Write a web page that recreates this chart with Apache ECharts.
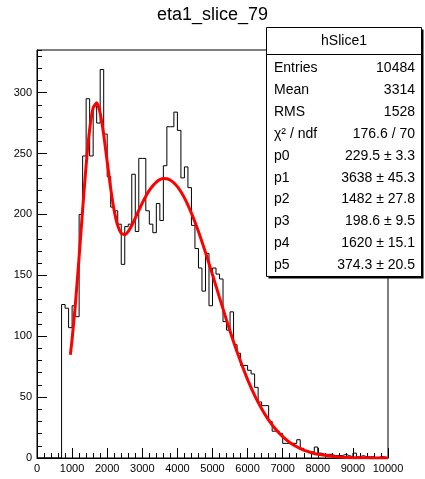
<!DOCTYPE html>
<html>
<head>
<meta charset="utf-8">
<script src="https://cdn.jsdelivr.net/npm/echarts@6/dist/echarts.min.js"></script>
<style>
html,body{margin:0;padding:0;background:#fff;}
#chart{width:425px;height:479px;}
</style>
</head>
<body>
<div id="chart"></div>
<script>
// ---- data ----
const chartTitle = 'eta1_slice_79';
const binLowFirst = 700;      // low edge of first filled bin
const binWidth = 100;
const binCounts = [
  126,123,107,125,116,200,248,295,248,289,
  275,319,266,231,206,203,192,159,190,192,
  233,186,246,246,203,192,185,209,195,240,
  272,272,284,269,230,239,222,191,172,156,
  137,168,125,156,151,147,112,105,120,93,
  86,76,76,72,69,58,46,43,43,30,
  22,22,20,12,12,12,12,15,8,6,
  5,5,9,4,3,3,3,2,2,2,
  3,2,1,4,1,2,1,1,1,0,
  1,1,0
];
const fitX = [950,1000,1100,1200,1300,1400,1500,1600,1700,1800,1900,
  2000,2100,2200,2300,2400,2500,2600,2700,2800,2900,
  3000,3100,3200,3300,3400,3500,3600,3700,3800,3900,
  4000,4100,4200,4300,4400,4500,4600,4700,4800,4900,5000,
  5200,5400,5600,5800,6000,6200,6400,6600,6800,7000,7200,7400,7600,7800,8000,
  8500,9000,9500,10000];
const fitY = [84.8,97.5,128.6,165.1,203.9,240.5,269.8,287.5,291.6,283.3,265.5,
  243.2,221.2,203.1,190.8,184.5,183.4,186.1,190.9,197.0,203.3,
  209.4,214.9,219.7,223.6,226.6,228.5,229.4,229.3,228.1,225.9,
  222.8,218.6,213.6,207.7,201.1,193.8,185.9,177.5,168.8,159.7,150.5,
  131.7,113.2,95.5,79.2,64.4,51.5,40.4,31.1,23.6,17.5,12.8,9.2,6.4,4.5,3.0,
  1.1,0.3,0.1,0.0];
const xMin = 0, xMax = 10000, xStep = 1000;
const yMin = 0, yMax = 335, yStep = 50, yMinorStep = 10;
const statsTitle = 'hSlice1';
const statsLabels = ['Entries','Mean','RMS','\u03C7\u00B2 / ndf','p0','p1','p2','p3','p4','p5'];
const statsValues = ['10484','3314','1528','176.6 / 70',
  '229.5 \u00B1 3.3','3638 \u00B1 45.3','1482 \u00B1 27.8',
  '198.6 \u00B1 9.5','1620 \u00B1 15.1','374.3 \u00B1 20.5'];

// ---- build series tables ----
const histData = [[xMin, 0]];
binCounts.forEach((c, i) => histData.push([binLowFirst + i * binWidth, c]));
histData.push([xMax, 0]);
const fitData = fitX.map((x, i) => [x, fitY[i]]);

const FONT = '"Liberation Sans", Arial, Helvetica, sans-serif';

// stats box graphics
const box = {l: 266.5, t: 27.5, r: 421.5, b: 276.5, head: 54.5};
const graphics = [
  {type:'rect', z:100, shape:{x:box.l+2, y:box.t+2, width:box.r-box.l, height:box.b-box.t},
   style:{fill:'#000', stroke:null}},
  {type:'rect', z:101, shape:{x:box.l, y:box.t, width:box.r-box.l, height:box.b-box.t},
   style:{fill:'#fff', stroke:'#000', lineWidth:1}},
  {type:'line', z:102, shape:{x1:box.l, y1:box.head, x2:box.r, y2:box.head},
   style:{stroke:'#000', lineWidth:1}},
  {type:'text', z:103, x:(box.l+box.r)/2, y:41.5,
   style:{text:statsTitle, font:'14px ' + FONT, fill:'#000', align:'center', verticalAlign:'middle'}}
];
statsLabels.forEach((lab, i) => {
  const yy = 68.5 + i * 21.85;
  graphics.push({type:'text', z:103, x:274, y:yy,
    style:{text:lab, font:'14px ' + FONT, fill:'#000', align:'left', verticalAlign:'middle'}});
  graphics.push({type:'text', z:103, x:415, y:yy,
    style:{text:statsValues[i], font:'14px ' + FONT, fill:'#000', align:'right', verticalAlign:'middle'}});
});

const chart = echarts.init(document.getElementById('chart'), null, {renderer:'canvas'});
chart.setOption({
  animation: false,
  backgroundColor: '#fff',
  title: {
    text: chartTitle, left: 'center', top: 1,
    textStyle: {fontSize: 18, fontWeight: 'normal', fontFamily: FONT, color: '#000'}
  },
  grid: {
    left: 37, right: 37, top: 50, bottom: 21,
    show: true, borderColor: '#000', borderWidth: 1,
    containLabel: false, outerBoundsMode: 'none'
  },
  xAxis: [{
    type: 'value', min: xMin, max: xMax, interval: xStep,
    axisLine: {show: true, onZero: false, lineStyle: {color: '#000', width: 1}},
    axisTick: {show: true, inside: true, length: 10, lineStyle: {color: '#000'}},
    minorTick: {show: true, splitNumber: 5, length: 5, lineStyle: {color: '#000'}},
    splitLine: {show: false}, minorSplitLine: {show: false},
    axisLabel: {color: '#000', fontSize: 11, fontFamily: FONT, margin: 5,
      formatter: v => String(v)}
  }],
  yAxis: [{
    type: 'value', min: yMin, max: yMax, interval: yStep, position: 'left',
    axisLine: {show: true, onZero: false, lineStyle: {color: '#000', width: 1}},
    axisTick: {show: true, inside: true, length: 10, lineStyle: {color: '#000'}},
    splitLine: {show: false},
    axisLabel: {color: '#000', fontSize: 11, fontFamily: FONT, margin: 5, showMaxLabel: false,
      formatter: v => String(v)}
  }, {
    type: 'value', min: yMin, max: yMax, interval: yMinorStep, position: 'left', offset: 0,
    axisLine: {show: false},
    axisTick: {show: true, inside: true, length: 5, lineStyle: {color: '#000'}},
    splitLine: {show: false},
    axisLabel: {show: false}
  }],
  series: [{
    type: 'line', name: 'hSlice1', data: histData, step: 'end',
    symbol: 'none', yAxisIndex: 0,
    lineStyle: {color: '#000', width: 1}, z: 2
  }, {
    type: 'line', name: 'fit', data: fitData, smooth: 0.2,
    symbol: 'none', yAxisIndex: 0,
    lineStyle: {color: '#ff0000', width: 3}, z: 3
  }],
  graphic: graphics
});
</script>
</body>
</html>
